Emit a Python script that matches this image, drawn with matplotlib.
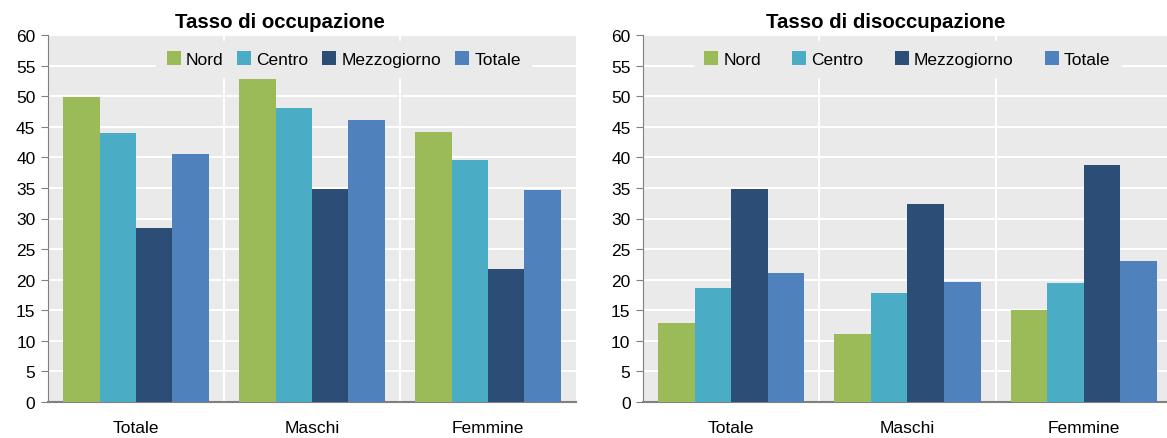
import numpy as np
import matplotlib
matplotlib.use("Agg")
import matplotlib.pyplot as plt
from matplotlib import font_manager

# font: narrow sans like the original if available
names = {f.name for f in font_manager.fontManager.ttflist}
fam = "Liberation Sans Narrow" if "Liberation Sans Narrow" in names else "Liberation Sans"
plt.rcParams["font.family"] = [fam, "DejaVu Sans"]

# data
categories = ["Totale", "Maschi", "Femmine"]
series = ["Nord", "Centro", "Mezzogiorno", "Totale"]
occupazione = {
    "Nord": [49.9, 52.8, 44.1],
    "Centro": [43.9, 48.0, 39.6],
    "Mezzogiorno": [28.4, 34.9, 21.7],
    "Totale": [40.5, 46.1, 34.7],
}
disoccupazione = {
    "Nord": [12.9, 11.1, 15.1],
    "Centro": [18.6, 17.9, 19.5],
    "Mezzogiorno": [34.8, 32.4, 38.7],
    "Totale": [21.1, 19.7, 23.1],
}
titles = ["Tasso di occupazione", "Tasso di disoccupazione"]
colors = ["#9BBB59", "#4BACC6", "#2C4D75", "#4F81BD"]
bg = "#EAEAEA"

fig = plt.figure(figsize=(11.67, 4.39), dpi=100)
ax1 = fig.add_axes([48 / 1167, 36 / 439, 528 / 1167, 367 / 439])
ax2 = fig.add_axes([643 / 1167, 36 / 439, 529 / 1167, 367 / 439])

x = np.arange(len(categories))
w = 0.207

panels = [(ax1, occupazione, titles[0], 0.8, 0.56, 0.440),
          (ax2, disoccupazione, titles[1], 1.8, 0.5, 0.459)]
for ax, data, title, colsp, lx, tx in panels:
    ax.set_facecolor(bg)
    for i, s in enumerate(series):
        ax.bar(x + (i - 1.5) * w, data[s], w, color=colors[i], label=s, zorder=3)
    ax.set_xlim(-0.5, 2.5)
    ax.set_ylim(0, 60)
    ax.set_yticks(range(0, 61, 5))
    ax.set_xticks(x)
    ax.set_xticklabels(categories)
    ax.yaxis.grid(True, color="white", linewidth=1.5, zorder=0)
    for b in [0.5, 1.5]:
        ax.axvline(b, color="white", linewidth=1.5, zorder=0)
    ax.set_axisbelow(True)
    for sp in ["top", "right"]:
        ax.spines[sp].set_visible(False)
    ax.spines["left"].set_color("#808080")
    ax.spines["bottom"].set_color("#808080")
    ax.spines["bottom"].set_linewidth(1.5)
    ax.tick_params(axis="x", length=0, labelsize=12.5, pad=13)
    ax.tick_params(axis="y", length=5, color="#808080", labelsize=12.5, pad=4)
    ax.set_title(title, fontsize=14.7, fontweight="bold", pad=5.8, x=tx)
    leg = ax.legend(loc="upper center", ncol=4, frameon=True, fontsize=12.5,
                    facecolor=bg, edgecolor=bg, framealpha=1, fancybox=False,
                    handlelength=0.8, handleheight=0.8, handletextpad=0.3,
                    columnspacing=colsp, borderpad=0.6, borderaxespad=0,
                    bbox_to_anchor=(lx, 0.984))
    leg.set_zorder(2.5)

fig.savefig("out.png", dpi=100)
